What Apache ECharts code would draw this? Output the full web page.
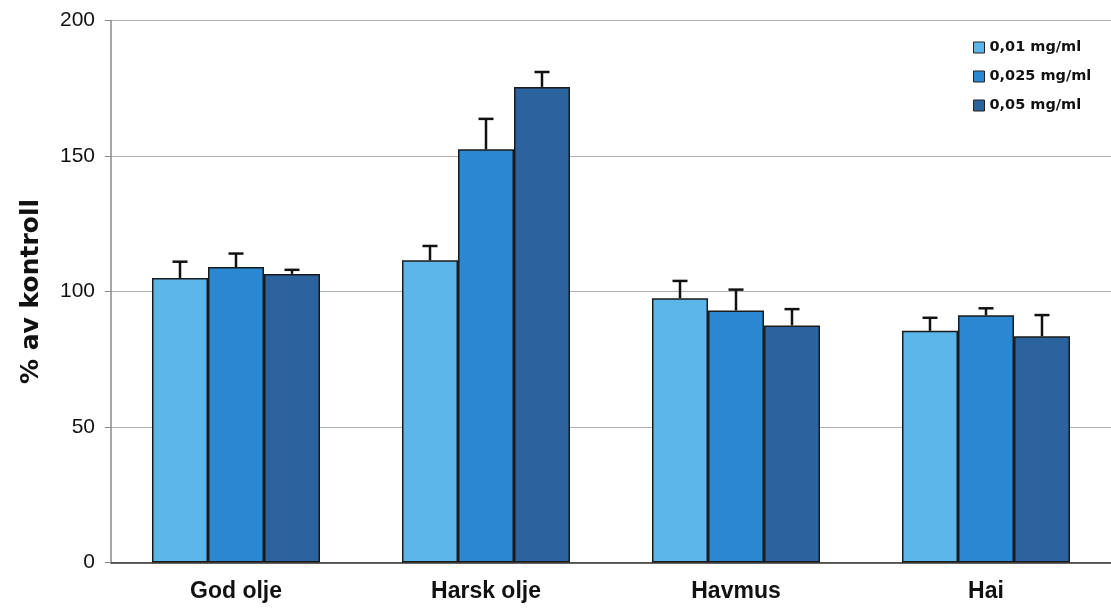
<!DOCTYPE html>
<html>
<head>
<meta charset="utf-8">
<script src="https://cdn.jsdelivr.net/npm/echarts@6/dist/echarts.min.js"></script>
<style>html,body{margin:0;padding:0;background:#fff;}#c{width:1111px;height:612px;}</style>
</head>
<body>
<div id="c"></div>
<script>
const categories = ['God olje', 'Harsk olje', 'Havmus', 'Hai'];
const seriesNames = ['0,01 mg/ml', '0,025 mg/ml', '0,05 mg/ml'];
const values001 = [105, 111.5, 97.5, 85.5];
const values0025 = [109, 152.5, 93, 91.2];
const values005 = [106.5, 175.5, 87.5, 83.5];
const err001 = [6, 5.3, 6.4, 4.8];
const err0025 = [5, 11.2, 7.7, 2.6];
const err005 = [1.5, 5.5, 6, 7.8];
const yTicks = [0, 50, 100, 150, 200];

const colors = ['#5db6ea', '#2a88d3', '#2b639e'];
const values = [values001, values0025, values005];
const errs = [err001, err0025, err005];
const barFrac = 0.224;

const errData = [];
values.forEach((vals, s) => vals.forEach((v, i) => errData.push([i, s, v, v + errs[s][i]])));

const chart = echarts.init(document.getElementById('c'));
const FONT = 'DejaVu Sans';
const ARIAL = 'Liberation Sans, Arial, sans-serif';
chart.setOption({
  animation: false,
  backgroundColor: '#ffffff',
  grid: { left: 111, right: 0, top: 20.5, bottom: 49.5 },
  legend: {
    orient: 'vertical', left: 968, top: 35, itemGap: 14,
    itemWidth: 11, itemHeight: 11, icon: 'rect',
    textStyle: { fontFamily: FONT, fontWeight: 'bold', fontSize: 14.5, color: '#111' },
    data: seriesNames.map((n, i) => ({ name: n, itemStyle: { color: colors[i], borderColor: '#222', borderWidth: 1 } }))
  },
  xAxis: {
    type: 'category', data: categories,
    axisLine: { lineStyle: { color: '#333', width: 1.5 } },
    axisTick: { show: false },
    axisLabel: { fontFamily: ARIAL, fontWeight: 'bold', fontSize: 23, color: '#111', margin: 18 }
  },
  yAxis: {
    type: 'value', min: 0, max: 200, interval: 50,
    name: '% av kontroll', nameLocation: 'middle', nameGap: 67, nameRotate: 90,
    nameTextStyle: { fontFamily: FONT, fontWeight: 'bold', fontSize: 25, color: '#111' },
    axisLine: { show: true, lineStyle: { color: '#888', width: 1.5 } },
    axisTick: { show: true, inside: false, length: 6, lineStyle: { color: '#888' } },
    axisLabel: { fontFamily: ARIAL, fontSize: 21, color: '#111', margin: 16,
      formatter: v => yTicks.includes(v) ? String(v) : '' },
    splitLine: { show: true, lineStyle: { color: '#b0b0b0', width: 1.2 } }
  },
  series: values.map((vals, s) => ({
    name: seriesNames[s], type: 'bar', data: vals,
    barWidth: (barFrac * 100) + '%', barGap: '0%',
    itemStyle: { color: colors[s], borderColor: '#1a1a1a', borderWidth: 1.5 }
  })).concat([{
    type: 'custom', data: errData, z: 10,
    encode: { x: 0, y: 3 },
    renderItem: function (params, api) {
      const cat = api.value(0), s = api.value(1);
      const band = api.size([1, 0])[0];
      const base = api.coord([cat, api.value(2)]);
      const top = api.coord([cat, api.value(3)]);
      const x = base[0] + (s - 1) * barFrac * band;
      const cap = 7.5;
      const st = { stroke: '#111', lineWidth: 2.5 };
      return { type: 'group', children: [
        { type: 'line', shape: { x1: x, y1: base[1], x2: x, y2: top[1] }, style: st },
        { type: 'line', shape: { x1: x - cap, y1: top[1], x2: x + cap, y2: top[1] }, style: st }
      ] };
    }
  }])
});
</script>
</body>
</html>
